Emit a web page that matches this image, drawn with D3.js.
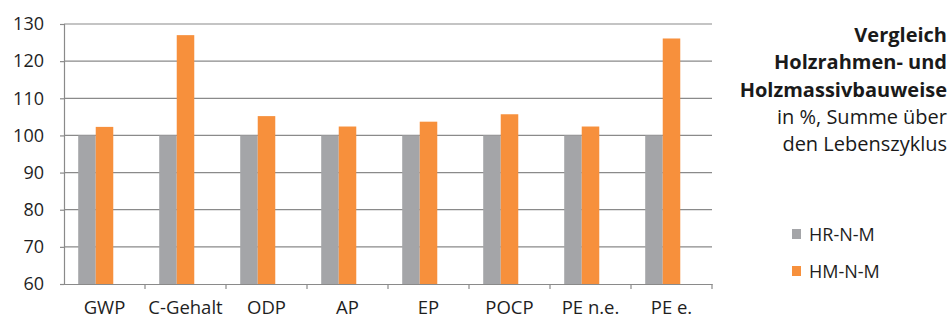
<!DOCTYPE html>
<html>
<head>
<meta charset="utf-8">
<script src="https://cdn.jsdelivr.net/npm/d3@7/dist/d3.min.js"></script>
<style>
  html, body { margin: 0; padding: 0; background: #ffffff; }
  svg { display: block; font-family: "Open Sans", Lato, sans-serif; }
</style>
</head>
<body>
<svg id="chart" width="952" height="320"></svg>
<script>
// Kategorien der Wirkungsindikatoren
const categories = ["GWP", "C-Gehalt", "ODP", "AP", "EP", "POCP", "PE n.e.", "PE e."];
// Holzrahmenbauweise als Referenz (100 %)
const hrValues = [100, 100, 100, 100, 100, 100, 100, 100];
// Holzmassivbauweise relativ zur Referenz
const hmValues = [102.3, 127.0, 105.2, 102.4, 103.7, 105.7, 102.4, 126.1];
const seriesNames = ["HR-N-M", "HM-N-M"];
const seriesColors = ["#a4a5a8", "#f7903c"];
const yTicks = [60, 70, 80, 90, 100, 110, 120, 130];
const titleLines = [
  { text: "Vergleich", bold: true },
  { text: "Holzrahmen- und", bold: true },
  { text: "Holzmassivbauweise", bold: true },
  { text: "in %, Summe über", bold: false },
  { text: "den Lebenszyklus", bold: false }
];

const svg = d3.select("#chart");
const plot = { left: 64, right: 712, top: 24, bottom: 284 };
const fontFamily = "'Open Sans', Lato, sans-serif";
const textColor = "#1e1e1e";
const lineColor = "#8a8a8a";

const x = d3.scaleBand().domain(categories).range([plot.left, plot.right]).paddingInner(0).paddingOuter(0);
// three slots per group (the third slot stays empty)
const slot = d3.scaleBand().domain([0, 1, 2]).range([0, x.bandwidth()]).paddingInner(0).paddingOuter(0.81);
const y = d3.scaleLinear().domain([60, 130]).range([plot.bottom, plot.top]);

// horizontal gridlines
svg.append("g")
  .selectAll("line")
  .data(yTicks.slice(1))
  .join("line")
  .attr("x1", plot.left).attr("x2", plot.right)
  .attr("y1", d => y(d)).attr("y2", d => y(d))
  .attr("stroke", lineColor).attr("stroke-width", 1.2);

// bars
const series = [hrValues, hmValues];
series.forEach((vals, si) => {
  svg.append("g")
    .selectAll("rect")
    .data(categories)
    .join("rect")
    .attr("x", (c) => x(c) + slot(si))
    .attr("width", slot.bandwidth())
    .attr("y", (c, i) => y(vals[i]))
    .attr("height", (c, i) => y(60) - y(vals[i]))
    .attr("fill", seriesColors[si]);
});

// y axis
const yAxis = svg.append("g")
  .attr("transform", `translate(${plot.left},0)`)
  .call(d3.axisLeft(y).tickValues(yTicks).tickSize(4).tickPadding(16));
yAxis.select(".domain").attr("stroke", lineColor).attr("stroke-width", 1.2);
yAxis.selectAll(".tick line").attr("stroke", lineColor).attr("stroke-width", 1.2);
yAxis.selectAll(".tick text")
  .attr("font-size", 18).attr("fill", textColor)
  .attr("font-family", fontFamily);

// x axis with ticks at the category boundaries
const xAxis = svg.append("g")
  .attr("transform", `translate(0,${plot.bottom})`)
  .call(d3.axisBottom(x).tickSize(0).tickPadding(17));
xAxis.select(".domain").attr("stroke", lineColor).attr("stroke-width", 1.2);
xAxis.selectAll(".tick text")
  .attr("font-size", 18.5).attr("fill", textColor)
  .attr("font-family", fontFamily);
xAxis.selectAll(".boundary")
  .data(categories.map(c => x(c) + x.bandwidth()))
  .join("line")
  .attr("class", "boundary")
  .attr("x1", d => d).attr("x2", d => d)
  .attr("y1", 0).attr("y2", 5)
  .attr("stroke", lineColor).attr("stroke-width", 1.2);

// title block, right aligned
const title = svg.append("g");
title.selectAll("text")
  .data(titleLines)
  .join("text")
  .attr("x", 947)
  .attr("y", (d, i) => 42 + i * 27.3)
  .attr("text-anchor", "end")
  .attr("font-size", 20)
  .attr("font-weight", d => d.bold ? 700 : 400)
  .attr("fill", "#1a1a1a")
  .text(d => d.text);

// legend
const legend = svg.append("g");
seriesNames.forEach((name, i) => {
  const ly = 234 + i * 37;
  legend.append("rect")
    .attr("x", 792).attr("y", ly - 5).attr("width", 9).attr("height", 10)
    .attr("fill", seriesColors[i]);
  legend.append("text")
    .attr("x", 809).attr("y", ly + 7)
    .attr("font-size", 18).attr("fill", textColor)
    .text(name);
});
</script>
</body>
</html>
